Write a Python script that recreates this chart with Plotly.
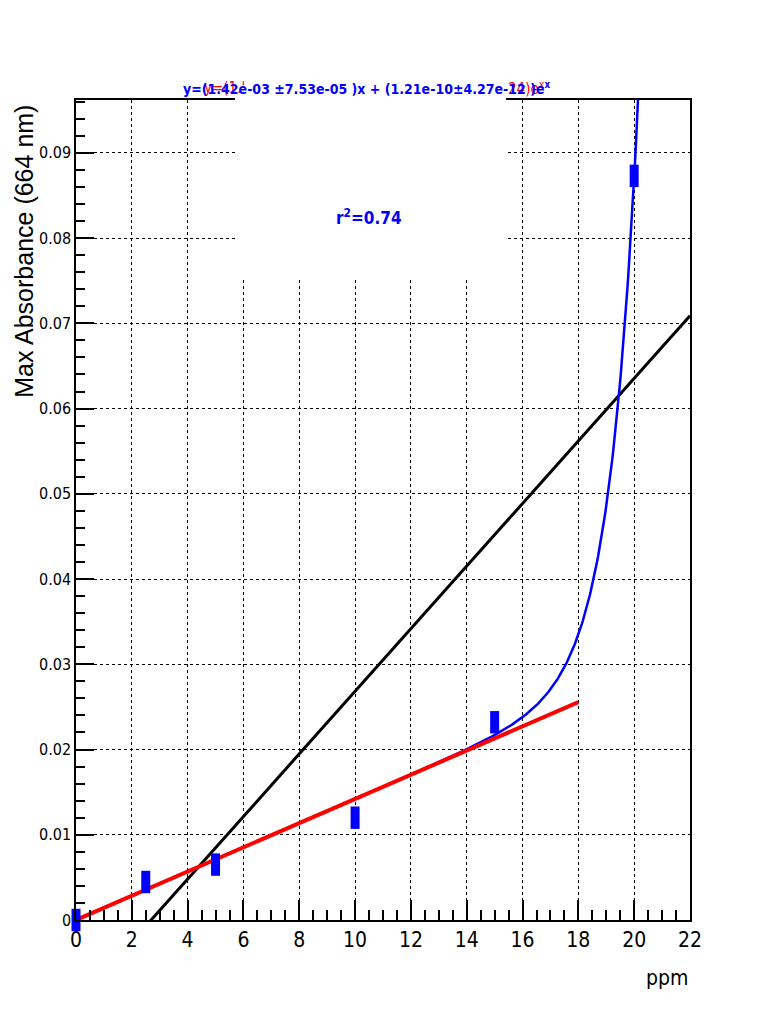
import numpy as np
import plotly.graph_objects as go

# ---- data ----
ppm = [0, 2.5, 5, 10, 15, 20]
absorbance = [0.0, 0.00446, 0.0065, 0.0120, 0.0232, 0.0873]

# fit parameters shown in the chart title
lin_coef = 1.42e-03
exp_coef = 1.21e-10
r2_text = "r<sup>2</sup>=0.74"
title_text = "y=(1.42e-03 ±7.53e-05 )x + (1.21e-10±4.27e-12 )e<sup>x</sup>"
red_title_start = "y=(1.'"
red_title_end = "24)e<sup>x</sup>"

red_fit_range = [0, 18]
blue_fit_range = [0, 20.3]
black_fit_range = [0, 22]

x_ticks = list(range(0, 23, 2))
y_ticks = [0, 0.01, 0.02, 0.03, 0.04, 0.05, 0.06, 0.07, 0.08, 0.09]
y_ticktext = ["0", "0.01", "0.02", "0.03", "0.04", "0.05", "0.06", "0.07", "0.08", "0.09"]

# ---- derived curves ----
xb = np.linspace(blue_fit_range[0], blue_fit_range[1], 600)
yb = lin_coef * xb + exp_coef * np.exp(xb)

m, b = np.polyfit(ppm, absorbance, 1)
xk = np.array(black_fit_range, dtype=float)
yk = m * xk + b

xr = np.array(red_fit_range, dtype=float)
yr = lin_coef * xr

NARROW = "DejaVu Sans Condensed, Liberation Sans Narrow, sans-serif"

fig = go.Figure()
fig.add_trace(go.Scatter(x=xk, y=yk, mode="lines", line=dict(color="black", width=3), showlegend=False))
fig.add_trace(go.Scatter(x=xb, y=yb, mode="lines", line=dict(color="#0000ff", width=2.5), showlegend=False))
fig.add_trace(go.Scatter(x=xr, y=yr, mode="lines", line=dict(color="#ff0000", width=4), showlegend=False))
fig.add_trace(go.Scatter(x=ppm, y=absorbance, mode="markers", cliponaxis=False,
                         marker=dict(symbol="line-ns", size=16, color="#0000ff",
                                     line=dict(width=9, color="#0000ff")),
                         showlegend=False))

axis_common = dict(showline=True, linecolor="black", linewidth=1.5, mirror=True,
                   ticks="inside", tickcolor="black", tickwidth=1.5,
                   showgrid=True, gridcolor="black", gridwidth=1, griddash="dot",
                   zeroline=False)

fig.update_xaxes(range=[0, 22], tickvals=x_ticks, ticklen=20,
                 minor=dict(dtick=0.5, ticklen=10, ticks="inside", tickcolor="black", showgrid=False),
                 tickfont=dict(family=NARROW, size=21, color="black"), **axis_common)
fig.update_yaxes(range=[0, 0.0962], tickvals=y_ticks, ticktext=y_ticktext, ticklen=18,
                 minor=dict(dtick=0.002, ticklen=9, ticks="inside", tickcolor="black", showgrid=False),
                 tickfont=dict(family=NARROW, size=16, color="black"), **axis_common)

# white stats-box region covering the grid
fig.add_shape(type="rect", xref="x", yref="paper", x0=5.70, x1=15.41, y0=0.783, y1=1.03,
              fillcolor="white", line=dict(width=0), layer="above")

# red (underlying) title fragments
fig.add_annotation(xref="paper", yref="paper", x=0.205, y=1.0146, text=red_title_start, showarrow=False,
                   xanchor="left", yanchor="middle",
                   font=dict(family=NARROW, size=15, color="#ff0000"))
fig.add_annotation(xref="paper", yref="paper", x=0.700, y=1.0146, text=red_title_end, showarrow=False,
                   xanchor="left", yanchor="middle",
                   font=dict(family=NARROW, size=15, color="#ff0000"))
# blue title
fig.add_annotation(xref="paper", yref="paper", x=0.474, y=1.0146, text=title_text, showarrow=False,
                   xanchor="center", yanchor="middle",
                   font=dict(family=NARROW, size=14, color="#0000ff", weight="bold"))
fig.add_annotation(xref="paper", yref="paper", x=0.477, y=0.857, text=r2_text, showarrow=False,
                   xanchor="center", yanchor="middle",
                   font=dict(family=NARROW, size=17, color="#0000ff", weight="bold"))
fig.add_annotation(xref="paper", yref="paper", x=-0.085, y=0.997, text="Max Absorbance (664 nm)",
                   showarrow=False, textangle=-90, xanchor="center", yanchor="top",
                   font=dict(family="Liberation Sans, Arial, sans-serif", size=25, color="black"))
fig.add_annotation(xref="paper", yref="paper", x=1.0, y=-0.0707, text="ppm", showarrow=False,
                   xanchor="right", yanchor="middle",
                   font=dict(family=NARROW, size=21, color="black"))

fig.update_layout(width=768, height=1024, paper_bgcolor="white", plot_bgcolor="white",
                  margin=dict(l=68, r=86, t=92, b=112), showlegend=False)

fig.write_html("out.html")
